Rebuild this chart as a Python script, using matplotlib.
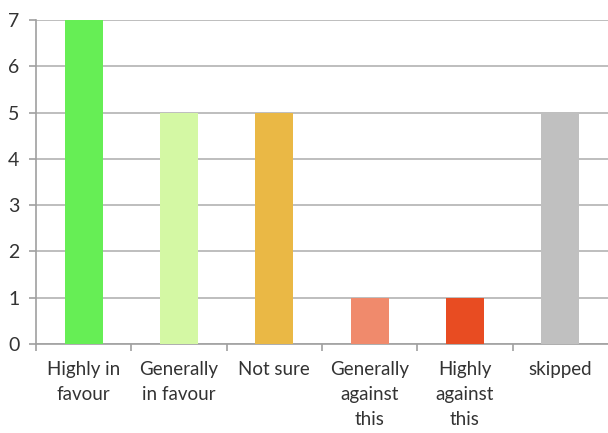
import matplotlib.pyplot as plt

# survey responses
categories = ['Highly in\nfavour', 'Generally\nin favour', 'Not sure',
              'Generally\nagainst\nthis', 'Highly\nagainst\nthis', 'skipped']
counts = [7, 5, 5, 1, 1, 5]
colors = ['#66EE55', '#D4F8A4', '#EAB845', '#F08A6C', '#E84C22', '#C0C0C0']

plt.rcParams['font.family'] = ['Lato', 'DejaVu Sans']

fig = plt.figure(figsize=(6.08, 4.33), dpi=100)
ax = fig.add_axes([0.0592, 0.2055, 0.9408, 0.7483])

x = range(len(counts))
ax.bar(x, counts, width=0.4, color=colors, zorder=3)

ax.set_xlim(-0.5, len(counts) - 0.5)
ax.set_ylim(0, 7)
ax.set_yticks(range(0, 8))
ax.grid(axis='y', color='#b3b3b3', linewidth=1.2, zorder=0)

ax.set_xticks(list(x))
ax.set_xticklabels(categories, fontsize=13.5, color='#333333', linespacing=1.6, va='top')
ax.set_xticks([i - 0.5 for i in range(len(counts))], minor=True)
ax.tick_params(axis='x', which='major', length=0, pad=12)
ax.tick_params(axis='x', which='minor', length=5, color='#a0a0a0', width=1.2)
ax.tick_params(axis='y', length=5, color='#a0a0a0', width=1.2, labelsize=14,
               labelcolor='#333333', pad=7)

for side in ['top', 'right']:
    ax.spines[side].set_visible(False)
for side in ['left', 'bottom']:
    ax.spines[side].set_color('#a0a0a0')
    ax.spines[side].set_linewidth(1.2)

fig.savefig('out.png', dpi=100)
